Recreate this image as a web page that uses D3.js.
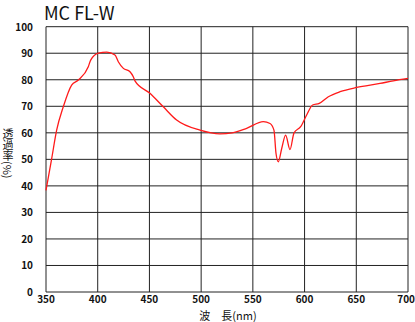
<!DOCTYPE html>
<html>
<head>
<meta charset="utf-8">
<script src="https://cdn.jsdelivr.net/npm/d3@7"></script>
<style>
  body { margin: 0; background: #fff; }
  text { font-family: "Noto Sans CJK JP", "Noto Sans", sans-serif; }
</style>
</head>
<body>
<script>
// wavelength (nm) and transmittance (%)
const wavelength = [350, 355.5, 360.3, 366.7, 374.8, 381.3, 390.9, 393.2, 400.6, 408.7, 416.7, 419.9, 424.8, 431.2, 434.4, 436,
  450.5, 463.4, 476.3, 498.9, 518.2, 530, 544, 560.1, 566.6, 570.4, 572.4, 574.6, 577.9, 581.7, 585.9, 589.8,
  596.2, 602, 607.8, 614.2, 623, 634.3, 650.4, 672.9, 685.8, 700];
const transmit = [38.3, 50.3, 61, 69.8, 78, 79.9, 84.9, 87.4, 90, 90.45, 89.3, 86.8, 84.3, 83, 81.1, 79.6,
  74.9, 69.8, 64.8, 61, 59.6, 60, 61.7, 64.2, 63.5, 61, 52.2, 49.1, 54.1, 59.1, 53.7, 60,
  62.3, 66.7, 70.5, 71.1, 73.6, 75.5, 77.1, 78.6, 79.6, 80.5];
const xTicks = [350, 400, 450, 500, 550, 600, 650, 700];
const yTicks = [0, 10, 20, 30, 40, 50, 60, 70, 80, 90, 100];

const w = 415, h = 322;
const svg = d3.select('body').append('svg').attr('width', w).attr('height', h);

const x = d3.scaleLinear().domain([350, 700]).range([46, 408]);
const y = d3.scaleLinear().domain([0, 100]).range([292, 26.7]);

// grid
const grid = svg.append('g').attr('stroke', '#222').attr('stroke-width', 1).attr('fill', 'none');
grid.selectAll('.v').data(xTicks).enter().append('line')
  .attr('x1', d => x(d)).attr('x2', d => x(d)).attr('y1', y(0)).attr('y2', y(100));
grid.selectAll('.h').data(yTicks).enter().append('line')
  .attr('x1', x(350)).attr('x2', x(700)).attr('y1', d => y(d)).attr('y2', d => y(d));

// tick labels
svg.append('g').selectAll('text').data(yTicks).enter().append('text')
  .attr('x', 33).attr('y', d => y(d) + 4).attr('text-anchor', 'end')
  .attr('font-size', 10).attr('font-weight', 'bold').attr('fill', '#111')
  .text(d => d);
svg.append('g').selectAll('text').data(xTicks).enter().append('text')
  .attr('x', (d, i) => i === xTicks.length - 1 ? 415 : x(d)).attr('y', 303)
  .attr('text-anchor', (d, i) => i === xTicks.length - 1 ? 'end' : 'middle')
  .attr('font-size', 10).attr('font-weight', 'bold').attr('fill', '#111')
  .text(d => d);

// curve
const line = d3.line().x((d, i) => x(wavelength[i])).y(d => y(d)).curve(d3.curveMonotoneX);
svg.append('path').datum(transmit)
  .attr('d', line).attr('fill', 'none').attr('stroke', '#ff1a1a').attr('stroke-width', 1.3);

// titles
svg.append('text').attr('x', 44).attr('y', 20).attr('font-size', 18).attr('fill', '#111')
  .attr('font-family', 'Roboto, sans-serif').text('MC FL-W');
svg.append('text').attr('x', 228).attr('y', 320).attr('text-anchor', 'middle')
  .attr('font-size', 11).attr('fill', '#111').attr('xml:space', 'preserve').text('波　長(nm)');
// vertical y title
svg.append('text').attr('x', 8).attr('y', 128)
  .attr('font-size', 11).attr('fill', '#111')
  .style('writing-mode', 'vertical-rl').text('透過率(%)');
</script>
</body>
</html>
